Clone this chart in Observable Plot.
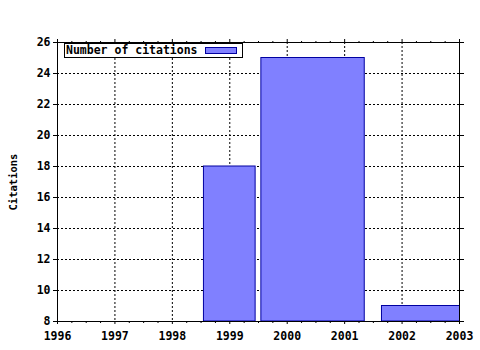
<!DOCTYPE html>
<html>
<head>
<meta charset="utf-8">
<script src="https://cdn.jsdelivr.net/npm/d3@7"></script>
<script src="https://cdn.jsdelivr.net/npm/@observablehq/plot@0.6"></script>
<style>
  html, body { margin: 0; padding: 0; background: #fff; }
  #wrap { position: relative; width: 480px; height: 350px; }
  #legend {
    position: absolute; left: 64px; top: 43px; width: 177px; height: 13px;
    border: 1px solid #000; background: #fff;
    font: bold 11.5px "DejaVu Sans Mono", monospace; line-height: 13px;
    box-sizing: content-box;
  }
  #legend span.t { position: absolute; left: 1px; top: 0; }
  #legend span.s { position: absolute; left: 140px; top: 3px; width: 30px; height: 5px;
    background: #8080ff; border: 1px solid #0000a0; }
  svg g[aria-label="y-axis label"] text { font-size: 10.5px; }
</style>
</head>
<body>
<div id="wrap"><div id="chart"></div>
<div id="legend"><span class="t">Number of citations</span><span class="s"></span></div></div>
<script>
const seriesName = "Number of citations";
const barStart = [1998.55, 1999.55, 2001.65];
const barEnd = [1999.45, 2001.35, 2003.3];
const citations = [18, 25, 9];
const xTicks = [1996, 1997, 1998, 1999, 2000, 2001, 2002, 2003];
const yTicks = [8, 10, 12, 14, 16, 18, 20, 22, 24, 26];
const yLabel = "Citations";

const data = citations.map((v, i) => ({x1: barStart[i], x2: barEnd[i], v}));
const minorX = d3.range(1996, 2003.001, 0.25).filter(t => Math.abs(t - Math.round(t)) > 1e-6);

const chart = Plot.plot({
  width: 480, height: 350,
  marginLeft: 57, marginRight: 21, marginTop: 42, marginBottom: 29,
  style: {fontFamily: "DejaVu Sans Mono", fontWeight: "bold", fontSize: "11.5px", color: "#000", background: "#fff"},
  x: {domain: [1996, 2003]},
  y: {domain: [8, 26]},
  marks: [
    Plot.gridX(xTicks, {stroke: "#000", strokeOpacity: 1, strokeDasharray: "2,2"}),
    Plot.gridY(yTicks, {stroke: "#000", strokeOpacity: 1, strokeDasharray: "2,2"}),
    Plot.rect(data, {x1: "x1", x2: "x2", y1: 8, y2: "v", fill: "#8080ff", stroke: "#0000a0", strokeWidth: 1, clip: true, inset: 0}),
    Plot.axisX({ticks: xTicks, tickFormat: "d", tickSize: 3, tickPadding: 7, label: null}),
    Plot.axisX({ticks: minorX, tickSize: 2, text: null, label: null}),
    Plot.axisX({ticks: xTicks, anchor: "top", tickSize: 4, text: null, label: null}),
    Plot.axisX({ticks: minorX, anchor: "top", tickSize: 2, text: null, label: null}),
    Plot.axisY({ticks: yTicks, tickSize: 4, tickPadding: 3, label: yLabel, labelAnchor: "center", labelArrow: "none", labelOffset: 48}),
    Plot.axisY({ticks: yTicks, anchor: "right", tickSize: 4, text: null, label: null}),
    Plot.frame({stroke: "#000"})
  ]
});
document.getElementById("chart").appendChild(chart);
</script>
</body>
</html>
